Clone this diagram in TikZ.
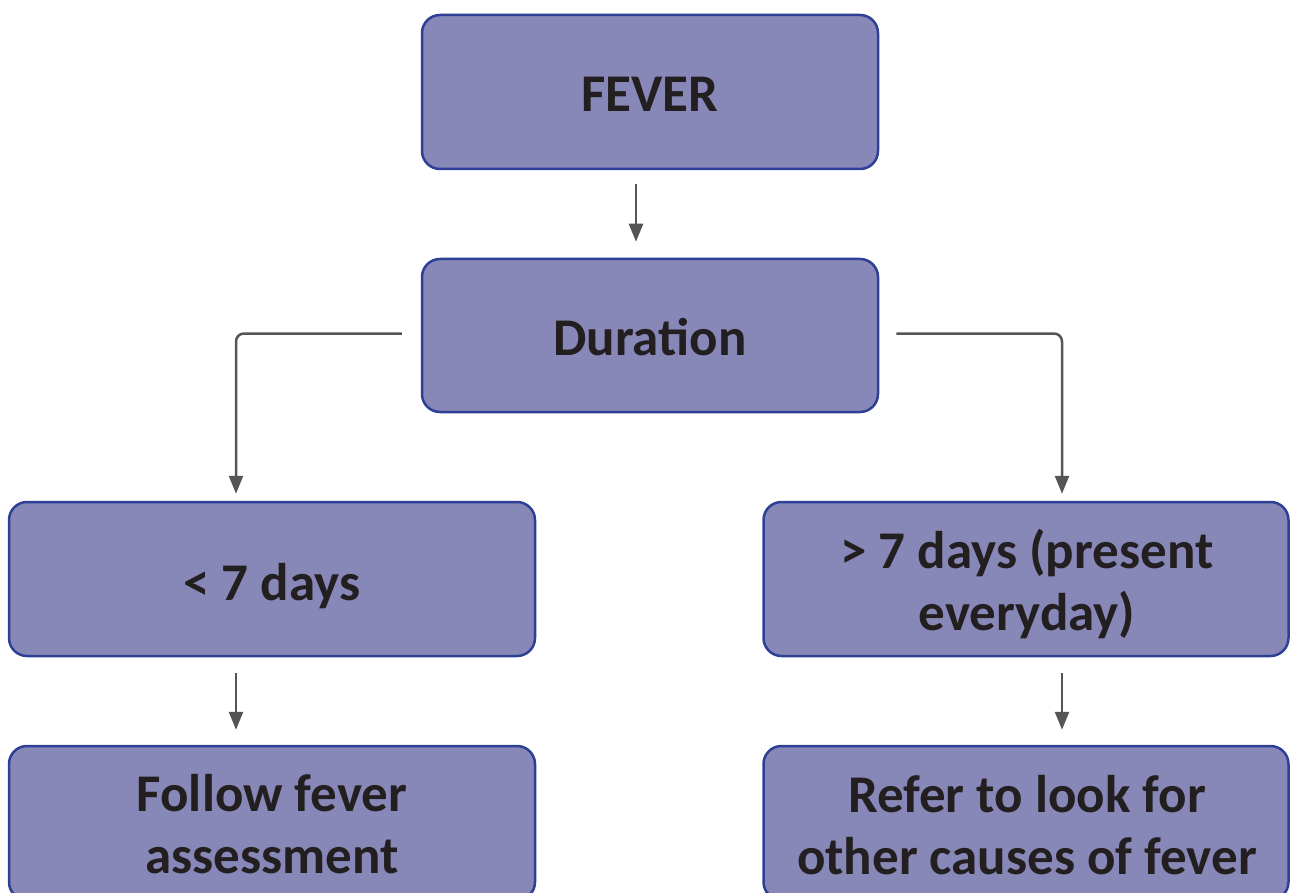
\documentclass[tikz,border=0pt]{standalone}
\usepackage{fontspec}
\setmainfont{Carlito}
\usetikzlibrary{arrows.meta}
\definecolor{boxfill}{HTML}{8788B8}
\definecolor{boxline}{HTML}{2E4095}
\definecolor{txt}{HTML}{231F20}
\definecolor{arr}{HTML}{555555}
\begin{document}
\begin{tikzpicture}[x=1pt,y=-1pt,
  box/.style={draw=boxline, line width=2.5pt, fill=boxfill, rounded corners=18pt, inner sep=0pt},
  lbl/.style={text=txt, font=\fontsize{53}{62}\selectfont\bfseries, inner sep=0pt, anchor=base},
  conn/.style={draw=arr, line width=2.5pt, -{Triangle[length=18pt,width=14pt]}, rounded corners=8pt}]
\useasboundingbox (0,0) rectangle (1290,893);
% boxes
\node[box, minimum width=456, minimum height=154] (fever) at (650,92) {};
\node[box, minimum width=456, minimum height=153] (dur) at (650,335.5) {};
\node[box, minimum width=526, minimum height=154] (left) at (272,579) {};
\node[box, minimum width=525, minimum height=154] (right) at (1026,579) {};
\node[box, minimum width=526, minimum height=154] (botleft) at (272,823) {};
\node[box, minimum width=525, minimum height=154] (botright) at (1026,823) {};
% texts, one node per line, placed on their baselines
\node[lbl] (feverT) at (650,112) {FEVER};
\node[lbl] (durT) at (650,355) {Duration};
\node[lbl] (leftT) at (272,600) {< 7 days};
\node[lbl] (rightTa) at (1027,568) {> 7 days (present};
\node[lbl] (rightTb) at (1027,630) {everyday)};
\node[lbl] (botleftTa) at (272,811) {Follow fever};
\node[lbl] (botleftTb) at (272,873) {assessment};
\node[lbl] (botrightTa) at (1027,812) {Refer to look for};
\node[lbl] (botrightTb) at (1027,874) {other causes of fever};
% connectors
\draw[conn] ([xshift=-14pt,yshift=-14pt]fever.south) -- ([xshift=-14pt,yshift=16pt]dur.north);
\draw[conn] ([xshift=-19pt,yshift=2pt]dur.west) -| ([xshift=-36pt,yshift=7pt]left.north);
\draw[conn] ([xshift=17pt,yshift=2pt]dur.east) -| ([xshift=36pt,yshift=7pt]right.north);
\draw[conn] ([xshift=-36pt,yshift=-16pt]left.south) -- ([xshift=-36pt,yshift=15pt]botleft.north);
\draw[conn] ([xshift=36pt,yshift=-16pt]right.south) -- ([xshift=36pt,yshift=15pt]botright.north);
\end{tikzpicture}
\end{document}
